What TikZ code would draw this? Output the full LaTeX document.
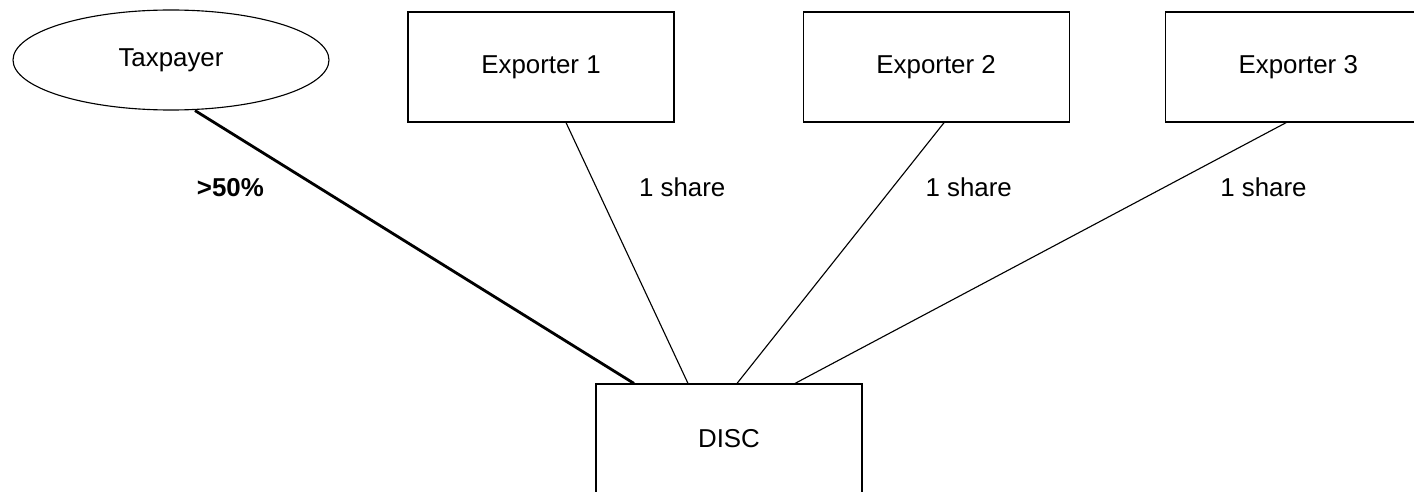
\documentclass[tikz,border=0pt]{standalone}
\usepackage{fontspec}
\setmainfont{Liberation Sans}
\usepackage{tikz}
\usetikzlibrary{shapes.geometric, positioning}

\begin{document}
\begin{tikzpicture}[node distance=2cm]
    % Define the style for the nodes
    \tikzstyle{block} = [rectangle, draw, line width=0.8pt, minimum width=6.65cm, minimum height=2.75cm, text centered, font=\fontsize{18.4}{22}\selectfont]
    \tikzstyle{oval} = [ellipse, draw, line width=0.8pt, minimum width=7.9cm, minimum height=2.5cm, inner sep=0pt, font=\fontsize{18.4}{22}\selectfont]
    \tikzstyle{line} = [draw, line width=0.8pt]
    \tikzstyle{major} = [draw, line width=2pt]
    \tikzstyle{share} = [anchor=center, font=\fontsize{18.4}{22}\selectfont]

    \useasboundingbox (0,0) rectangle (35.35,-12.3);

    % Place the nodes
    \node [oval] (taxpayer) at (4.275,-1.5) {Taxpayer};
    \node [block] (exporter1) at (13.525,-1.675) {Exporter 1};
    \node [block, right=3.2cm of exporter1] (exporter2) {Exporter 2};
    \node [block, right=2.375cm of exporter2] (exporter3) {Exporter 3};
    \node [block] (disc) at (18.225,-10.975) {DISC};

    % Connect the nodes with paths
    \path [major] ([xshift=0.6cm]taxpayer.south) -- ([xshift=-2.375cm]disc.north)
        node [share, pos=0.281, xshift=-2.2cm, font=\fontsize{18.4}{22}\selectfont\bfseries] {>50\%};
    \path [line] ([xshift=0.625cm]exporter1.south) -- ([xshift=-1.025cm]disc.north)
        node [share, pos=0.248, xshift=2.15cm] {1 share};
    \path [line] ([xshift=0.2cm]exporter2.south) -- ([xshift=0.2cm]disc.north)
        node [share, pos=0.248, xshift=1.9cm] {1 share};
    \path [line] ([xshift=-0.3cm]exporter3.south) -- ([xshift=1.65cm]disc.north)
        node [share, pos=0.248, xshift=2.475cm] {1 share};
\end{tikzpicture}
\end{document}
